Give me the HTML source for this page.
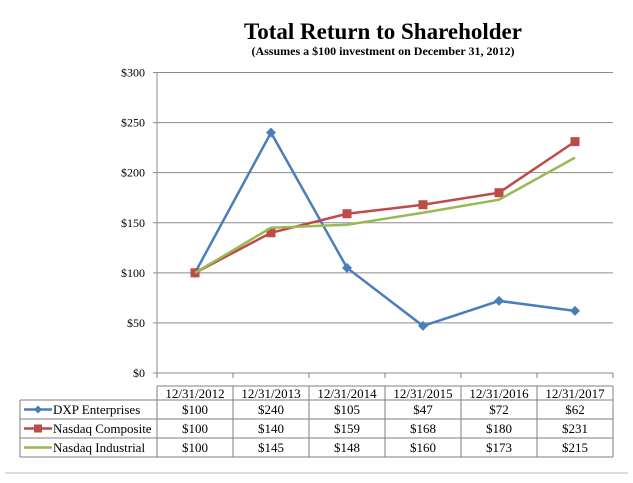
<!DOCTYPE html>
<html><head><meta charset="utf-8">
<style>
body{margin:0;background:#fff;}
svg text{font-family:"Liberation Serif",serif;}
</style></head>
<body>
<svg id="chart" width="633" height="478" xmlns="http://www.w3.org/2000/svg">
<rect x="0" y="0" width="633" height="478" fill="#fff"/>
<text x="383" y="39" text-anchor="middle" font-size="23" font-weight="bold">Total Return to Shareholder</text>
<text x="383" y="55" text-anchor="middle" font-size="12" font-weight="bold">(Assumes a $100 investment on December 31, 2012)</text>
<g id="grid"></g>
<g id="series"></g>
<g id="table"></g>
<line x1="5" y1="473" x2="628" y2="473" stroke="#bbb"/>
</svg>
<script>
const categories=["12/31/2012","12/31/2013","12/31/2014","12/31/2015","12/31/2016","12/31/2017"];
const seriesNames=["DXP Enterprises","Nasdaq Composite","Nasdaq Industrial"];
const dxp=[100,240,105,47,72,62];
const composite=[100,140,159,168,180,231];
const industrial=[100,145,148,160,173,215];
const yTicks=[0,50,100,150,200,250,300];
const yTickLabels=["$0","$50","$100","$150","$200","$250","$300"];
const colors=["#4a7ebb","#be4b48","#98b954"];
const NS="http://www.w3.org/2000/svg";
const X0=157,X1=613,Y0=373,Y1=72.5,YMAX=300;
const colW=(X1-X0)/categories.length;
function xs(i){return X0+colW*(i+0.5);}
function ys(v){return Y0-(v/YMAX)*(Y0-Y1);}
function mk(tag,attrs,parent){const e=document.createElementNS(NS,tag);for(const k in attrs)e.setAttribute(k,attrs[k]);parent.appendChild(e);return e;}
const grid=document.getElementById('grid');
yTicks.forEach((t,i)=>{
  const l=mk('line',{x1:X0-4,x2:X1,y1:ys(t),y2:ys(t),stroke:'#8c8c8c'},grid);
  
  
  const tx=mk('text',{x:X0-12,y:ys(t)+4,'text-anchor':'end','font-size':'12'},grid);
  tx.textContent=yTickLabels[i];
  
  
});
const ax=mk('line',{x1:X0,x2:X0,y1:Y1,y2:Y0,stroke:'#8c8c8c'},grid);


const sg=document.getElementById('series');
const all=[dxp,composite,industrial];
all.forEach((vals,si)=>{
  const pts=vals.map((v,i)=>xs(i)+','+ys(v)).join(' ');
  const pl=mk('polyline',{points:pts,fill:'none',stroke:colors[si],'stroke-width':'2.5'},sg);
  
  
  vals.forEach((v,i)=>{
    let m=null;
    if(si===0){const x=xs(i),y=ys(v);m=mk('polygon',{points:`${x},${y-5} ${x+5},${y} ${x},${y+5} ${x-5},${y}`,fill:colors[0]},sg);}
    else if(si===1){m=mk('rect',{x:xs(i)-4.5,y:ys(v)-4.5,width:9,height:9,fill:colors[1]},sg);}
    if(m){
    }
  });
});
// table
const tg=document.getElementById('table');
const rowY=[386,400,419,438,457];
const L=20;
const st='#7f7f7f';
mk('line',{x1:X0,x2:X1,y1:rowY[0],y2:rowY[0],stroke:st},tg);
for(let r=1;r<rowY.length;r++)mk('line',{x1:L,x2:X1,y1:rowY[r],y2:rowY[r],stroke:st},tg);
mk('line',{x1:L,x2:L,y1:rowY[1],y2:rowY[4],stroke:st},tg);
for(let c=0;c<=categories.length;c++){
  mk('line',{x1:X0+colW*c,x2:X0+colW*c,y1:Y0,y2:Y0+5,stroke:st},tg);
  mk('line',{x1:X0+colW*c,x2:X0+colW*c,y1:rowY[0],y2:rowY[4],stroke:st},tg);
}
categories.forEach((c,i)=>{
  const t=mk('text',{x:xs(i),y:rowY[0]+12,'text-anchor':'middle','font-size':'13'},tg);
  t.textContent=c;
  
  
});
all.forEach((vals,si)=>{
  const cy=(rowY[si+1]+rowY[si+2])/2;
  const ll=mk('line',{x1:24,x2:52,y1:cy,y2:cy,stroke:colors[si],'stroke-width':'2.5'},tg);
  
  
  if(si===0)mk('polygon',{points:`38,${cy-4} 42,${cy} 38,${cy+4} 34,${cy}`,fill:colors[0]},tg);
  if(si===1)mk('rect',{x:34,y:cy-4,width:8,height:8,fill:colors[1]},tg);
  const n=mk('text',{x:53,y:cy+4.5,'font-size':'13'},tg);
  n.textContent=seriesNames[si];
  
  
  vals.forEach((v,i)=>{
    const t=mk('text',{x:xs(i),y:cy+4.5,'text-anchor':'middle','font-size':'13'},tg);
    t.textContent='$'+v;
    
    
  });
});
</script>
</body></html>
